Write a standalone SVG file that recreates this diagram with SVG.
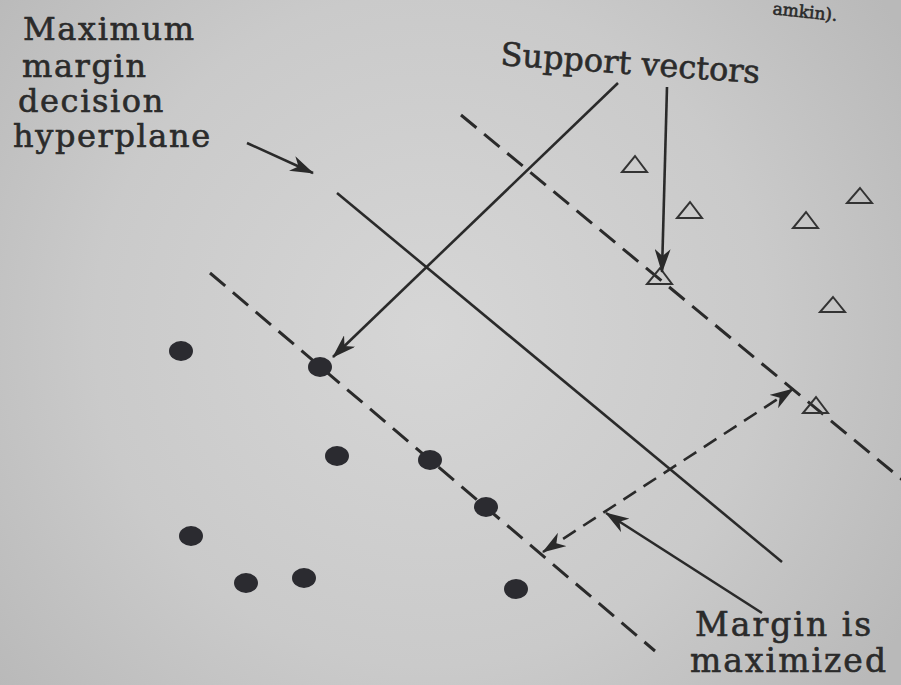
<svg xmlns="http://www.w3.org/2000/svg" width="901" height="685" viewBox="0 0 901 685">
<defs>
<radialGradient id="bg" cx="430" cy="330" r="560" gradientUnits="userSpaceOnUse">
<stop offset="0" stop-color="#d6d6d6"/>
<stop offset="0.6" stop-color="#cacaca"/>
<stop offset="1" stop-color="#b9b9b9"/>
</radialGradient>
<marker id="ah" viewBox="0 0 24 16" refX="23" refY="8" markerWidth="24" markerHeight="16" markerUnits="userSpaceOnUse" orient="auto">
<path d="M0,0 L24,8 L0,16 L7,8 Z" fill="#2a2a2a"/>
</marker>
<marker id="ah2" viewBox="0 0 24 16" refX="23" refY="8" markerWidth="24" markerHeight="16" markerUnits="userSpaceOnUse" orient="auto-start-reverse">
<path d="M0,0 L24,8 L0,16 L7,8 Z" fill="#2a2a2a"/>
</marker>
</defs>
<style>
.t{font-family:"DejaVu Serif","Liberation Serif",serif;fill:#2b2b2b;stroke:#2b2b2b;stroke-width:0.6}
.ln{stroke:#2a2a2a;stroke-width:2.6;fill:none}
.dash{stroke:#2a2a2a;stroke-width:3;fill:none;stroke-dasharray:20 10}
.dash2{stroke:#2a2a2a;stroke-width:2.6;fill:none;stroke-dasharray:15 9}
.dot{fill:#2b2b30}
.tri{fill:none;stroke:#333;stroke-width:2}
</style>
<rect width="901" height="685" fill="url(#bg)"/>

<g id="caption-fragment">
<text class="t" x="772" y="18" font-size="17" transform="rotate(6 808 18)">amkin).</text>
</g>

<g id="label-hyperplane">
<text class="t" font-size="32" letter-spacing="1.6" x="23" y="40">Maximum</text>
<text class="t" font-size="32" letter-spacing="1.6" x="22" y="77">margin</text>
<text class="t" font-size="32" letter-spacing="1.6" x="18" y="112">decision</text>
<text class="t" font-size="32" letter-spacing="1.6" x="13" y="147">hyperplane</text>
</g>

<g id="label-support">
<text class="t" font-size="32" x="500" y="65" transform="rotate(4 500 65)">Support vectors</text>
</g>

<g id="label-margin">
<text class="t" font-size="33" letter-spacing="2" x="695" y="636">Margin is</text>
<text class="t" font-size="33" letter-spacing="2" x="690" y="672">maximized</text>
</g>

<g id="boundary-upper"><line class="dash" x1="461" y1="115" x2="905" y2="482"/></g>
<g id="hyperplane"><line class="ln" x1="337" y1="193" x2="782" y2="562"/></g>
<g id="boundary-lower"><line class="dash" x1="210" y1="273" x2="655" y2="651"/></g>

<g id="dots">
<g id="c1"><ellipse class="dot" cx="181" cy="351" rx="12" ry="10"/></g>
<g id="c2"><ellipse class="dot" cx="320" cy="367" rx="12" ry="10"/></g>
<g id="c3"><ellipse class="dot" cx="337" cy="456" rx="12" ry="10"/></g>
<g id="c4"><ellipse class="dot" cx="430" cy="460" rx="12" ry="10"/></g>
<g id="c5"><ellipse class="dot" cx="486" cy="507" rx="12" ry="10"/></g>
<g id="c6"><ellipse class="dot" cx="191" cy="536" rx="12" ry="10"/></g>
<g id="c7"><ellipse class="dot" cx="246" cy="583" rx="12" ry="10"/></g>
<g id="c8"><ellipse class="dot" cx="304" cy="578" rx="12" ry="10"/></g>
<g id="c9"><ellipse class="dot" cx="516" cy="589" rx="12" ry="10"/></g>
</g>

<g id="triangles">
<g id="t1"><path class="tri" d="M635,156 L647,172 L622,172 Z"/></g>
<g id="t2"><path class="tri" d="M690,202 L702,218 L677,218 Z"/></g>
<g id="t3"><path class="tri" d="M806,212 L818,228 L793,228 Z"/></g>
<g id="t4"><path class="tri" d="M860,188 L872,203 L847,203 Z"/></g>
<g id="t5"><path class="tri" d="M833,297 L845,312 L820,312 Z"/></g>
<g id="t6"><path class="tri" d="M660,268 L672,284 L647,284 Z"/></g>
<g id="t7"><path class="tri" d="M816,397 L828,413 L803,413 Z"/></g>
</g>

<g id="connectors">
<line class="ln" x1="247" y1="143" x2="313" y2="173" marker-end="url(#ah)"/>
<line class="ln" x1="618" y1="83" x2="333" y2="357" marker-end="url(#ah)"/>
<line class="ln" x1="667" y1="87" x2="662" y2="272" marker-end="url(#ah)"/>
<line class="dash2" x1="543" y1="552" x2="793" y2="389" marker-start="url(#ah2)" marker-end="url(#ah)"/>
<line class="ln" x1="762" y1="613" x2="606" y2="513" marker-end="url(#ah)"/>
</g>
</svg>
